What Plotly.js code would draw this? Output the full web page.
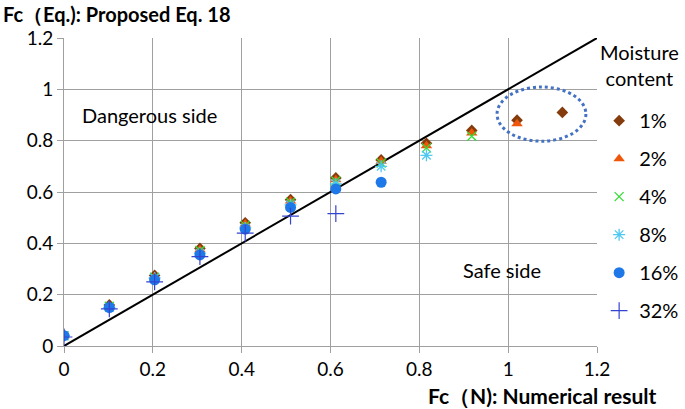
<!DOCTYPE html>
<html>
<head>
<meta charset="utf-8">
<script src="https://cdn.plot.ly/plotly-3.0.1.min.js"></script>
<style>html,body{margin:0;padding:0;background:#fff;}#chart{width:685px;height:409px;}</style>
</head>
<body>
<div id="chart"></div>
<script>
const xValues = [0, 0.102, 0.204, 0.306, 0.408, 0.51, 0.612, 0.714, 0.816, 0.918, 1.02, 1.122];
const seriesNames = ['1%', '2%', '4%', '8%', '16%', '32%'];
const y1 = [0.042, 0.16, 0.275, 0.38, 0.48, 0.57, 0.655, 0.725, 0.79, 0.84, 0.88, 0.91];
const y2 = [0.04, 0.155, 0.27, 0.375, 0.475, 0.565, 0.648, 0.72, 0.78, 0.83, 0.866];
const y4 = [0.04, 0.155, 0.268, 0.372, 0.47, 0.56, 0.643, 0.713, 0.772, 0.817];
const y8 = [0.04, 0.15, 0.265, 0.362, 0.46, 0.55, 0.632, 0.70, 0.743];
const y16 = [0.04, 0.15, 0.258, 0.355, 0.455, 0.54, 0.612, 0.638];
const y32 = [0.035, 0.145, 0.25, 0.348, 0.44, 0.506, 0.516];
const lineX = [0, 1.2];
const lineY = [0, 1.2];
const xTicks = [0, 0.2, 0.4, 0.6, 0.8, 1, 1.2];
const yTicks = [0, 0.2, 0.4, 0.6, 0.8, 1, 1.2];

const seriesY = [y1, y2, y4, y8, y16, y32];
const styles = [
  {symbol: 'diamond', color: '#843C0C', size: 9, line: {width: 0}},
  {symbol: 'triangle-up', color: '#F0560A', size: 10, line: {width: 0}},
  {symbol: 'x-thin-open', color: '#33DD33', size: 9, line: {width: 1.3, color: '#33DD33'}},
  {symbol: 'asterisk-open', color: '#4FC8F2', size: 10, line: {width: 1.3, color: '#4FC8F2'}},
  {symbol: 'circle', color: '#1F78E8', size: 11, line: {width: 0}},
  {symbol: 'cross-thin-open', color: '#3344D0', size: 12, line: {width: 1.2, color: '#3344D0'}}
];

const FONT = 'Lato, "Open Sans", sans-serif';

const traces = [{
  x: lineX, y: lineY, mode: 'lines', line: {color: '#000', width: 2},
  showlegend: false, hoverinfo: 'skip'
}];
seriesNames.forEach((n, i) => {
  const ys = seriesY[i];
  traces.push({
    x: xValues.slice(0, ys.length), y: ys, name: n, mode: 'markers',
    legendgroup: 'g' + i,
    marker: {symbol: styles[i].symbol, color: styles[i].color, size: styles[i].size, line: styles[i].line}
  });
});

const layout = {
  width: 685, height: 409,
  margin: {l: 64, r: 88, t: 38, b: 63, autoexpand: false},
  paper_bgcolor: '#fff', plot_bgcolor: '#fff',
  font: {family: FONT, size: 18, color: '#000'},
  xaxis: {
    range: [0, 1.2], tickvals: xTicks, ticktext: xTicks.map(String),
    showgrid: true, gridcolor: '#A0A0A0', gridwidth: 1,
    showline: true, linecolor: '#A0A0A0', linewidth: 1,
    ticks: 'outside', ticklen: 6, tickcolor: '#A0A0A0',
    zeroline: false, tickfont: {size: 19, family: FONT}, fixedrange: true
  },
  yaxis: {
    range: [0, 1.2], tickvals: yTicks, ticktext: yTicks.map(String),
    showgrid: true, gridcolor: '#A0A0A0', gridwidth: 1,
    showline: true, linecolor: '#A0A0A0', linewidth: 1,
    ticks: 'outside', ticklen: 6, tickcolor: '#A0A0A0',
    zeroline: false, tickfont: {size: 19, family: FONT}, fixedrange: true
  },
  showlegend: true,
  legend: {
    x: 1.004, xanchor: 'left', y: 0.795, yanchor: 'top',
    font: {size: 20, family: FONT},
    tracegroupgap: 9, itemwidth: 30, bgcolor: 'rgba(0,0,0,0)',
    maxheight: 400
  },
  shapes: [{
    type: 'circle', xref: 'x', yref: 'y',
    x0: 0.975, x1: 1.175, y0: 0.798, y1: 1.009,
    line: {color: '#4472C4', width: 3, dash: 'dot'}
  }],
  annotations: [
    {text: '<b>Fc（Eq.): Proposed Eq. 18</b>', xref: 'paper', yref: 'paper',
     x: -0.118, y: 1.125, xanchor: 'left', yanchor: 'top', showarrow: false,
     font: {size: 20, family: FONT}},
    {text: '<b>Fc（N): Numerical result</b>', xref: 'paper', yref: 'paper',
     x: 1.115, y: -0.115, xanchor: 'right', yanchor: 'top', showarrow: false,
     font: {size: 21, family: FONT}},
    {text: 'Moisture<br>content', xref: 'paper', yref: 'paper',
     x: 1.08, y: 0.912, xanchor: 'center', yanchor: 'middle', showarrow: false,
     font: {size: 20, family: FONT}},
    {text: 'Dangerous side', xref: 'x', yref: 'y', x: 0.192, y: 0.9,
     showarrow: false, font: {size: 20, family: FONT}},
    {text: 'Safe side', xref: 'x', yref: 'y', x: 0.985, y: 0.295,
     showarrow: false, font: {size: 20, family: FONT}}
  ]
};

Plotly.newPlot('chart', traces, layout, {staticPlot: true, displayModeBar: false});
</script>
</body>
</html>
